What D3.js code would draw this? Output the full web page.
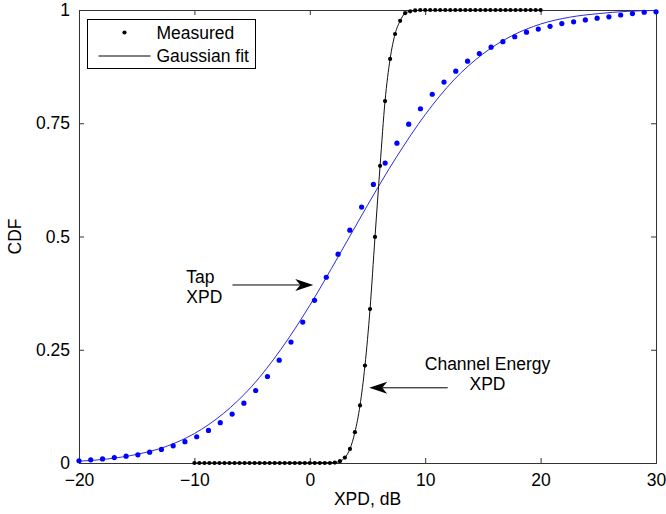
<!DOCTYPE html>
<html>
<head>
<meta charset="utf-8">
<script src="https://cdn.jsdelivr.net/npm/d3@7"></script>
<style>
  html, body { margin: 0; padding: 0; background: #fff; }
  #chart { width: 666px; height: 514px; }
  svg text { font-family: "Liberation Sans", Arial, sans-serif; font-size: 17.5px; fill: #000; }
  .axis path, .axis line { stroke: #333; }
</style>
</head>
<body>
<div id="chart"></div>
<script>
// Tap XPD, measured CDF points
var tapX = [-20.00, -18.98, -17.96, -16.94, -15.92, -14.90, -13.88, -12.86, -11.84, -10.82,
    -9.80, -8.78, -7.76, -6.73, -5.71, -4.69, -3.67, -2.65, -1.63, -0.61,
    0.41, 1.43, 2.45, 3.47, 4.49, 5.51, 6.53, 7.55, 8.57, 9.59,
    10.61, 11.63, 12.65, 13.67, 14.69, 15.71, 16.73, 17.76, 18.78, 19.80,
    20.82, 21.84, 22.86, 23.88, 24.90, 25.92, 26.94, 27.96, 28.98, 30.00];
var tapCdf = [0.005, 0.007, 0.009, 0.012, 0.015, 0.018, 0.024, 0.030, 0.038, 0.047,
    0.058, 0.072, 0.089, 0.108, 0.132, 0.160, 0.191, 0.227, 0.267, 0.311,
    0.359, 0.410, 0.461, 0.514, 0.565, 0.615, 0.662, 0.706, 0.748, 0.782,
    0.814, 0.841, 0.865, 0.887, 0.904, 0.918, 0.930, 0.941, 0.951, 0.958,
    0.964, 0.970, 0.974, 0.978, 0.982, 0.985, 0.989, 0.992, 0.995, 0.996];

// Tap XPD, Gaussian fit
var tapFitX = [-20, -17.5, -15, -12.5, -10, -7.5, -5, -2.5, 0, 2.5, 5, 7.5, 10, 12.5, 15, 17.5, 20, 22.5, 25, 27.5, 30];
var tapFitCdf = [0.004, 0.009, 0.019, 0.036, 0.065, 0.109, 0.170, 0.251, 0.348, 0.457, 0.569,
    0.675, 0.769, 0.846, 0.903, 0.943, 0.969, 0.984, 0.992, 0.997, 0.999];

// Channel energy XPD, measured CDF points
var energyX = [-10.00, -9.57, -9.13, -8.70, -8.26, -7.83, -7.39, -6.96, -6.52, -6.09,
    -5.65, -5.22, -4.78, -4.35, -3.91, -3.48, -3.04, -2.61, -2.17, -1.74,
    -1.30, -0.87, -0.43, 0.00, 0.43, 0.87, 1.30, 1.74, 2.17, 2.61,
    3.04, 3.48, 3.91, 4.35, 4.78, 5.22, 5.65, 6.09, 6.52, 6.96,
    7.39, 7.83, 8.26, 8.70, 9.13, 9.57, 10.00, 10.43, 10.87, 11.30,
    11.74, 12.17, 12.61, 13.04, 13.48, 13.91, 14.35, 14.78, 15.22, 15.65,
    16.09, 16.52, 16.96, 17.39, 17.83, 18.26, 18.70, 19.13, 19.57, 20.00];
var energyCdf = [0, 0, 0, 0, 0, 0, 0, 0, 0, 0,
    0, 0, 0, 0, 0, 0, 0, 0, 0, 0,
    0, 0, 0, 0, 0, 0, 0, 0, 0.001, 0.004,
    0.012, 0.031, 0.068, 0.127, 0.215, 0.340, 0.499, 0.656, 0.799, 0.892,
    0.947, 0.976, 0.993, 0.997, 0.999, 1, 1, 1, 1, 1,
    1, 1, 1, 1, 1, 1, 1, 1, 1, 1,
    1, 1, 1, 1, 1, 1, 1, 1, 1, 1];

// Channel energy XPD, Gaussian fit
var energyFitX = [-10, 2.17, 2.61, 3.04, 3.48, 3.91, 4.35, 4.78, 5.22, 5.65, 6.09, 6.52, 6.96, 7.39, 7.83, 8.26, 8.70, 9.13, 20];
var energyFitCdf = [0, 0.001, 0.004, 0.012, 0.031, 0.068, 0.127, 0.215, 0.340, 0.499, 0.656, 0.799, 0.892, 0.947, 0.976, 0.993, 0.997, 0.999, 1];

var xTicks = [-20, -10, 0, 10, 20, 30];
var yTicks = [0, 0.25, 0.5, 0.75, 1];
var yTickLabels = ["0", "0.25", "0.5", "0.75", "1"];

var margin = {top: 10, right: 10, bottom: 51, left: 79};
var width = 666 - margin.left - margin.right;
var height = 514 - margin.top - margin.bottom;

var svg = d3.select("#chart").append("svg")
    .attr("width", 666)
    .attr("height", 514);

var g = svg.append("g")
    .attr("transform", "translate(" + margin.left + "," + margin.top + ")");

var x = d3.scaleLinear().domain([-20, 30]).range([0, width]);
var y = d3.scaleLinear().domain([0, 1]).range([height, 0]);

var minus = function (d) { return d < 0 ? "\u2212" + Math.abs(d) : String(d); };

// box with inward ticks on all four sides
g.append("g").attr("class", "axis")
    .attr("transform", "translate(0," + height + ")")
    .call(d3.axisBottom(x).tickValues(xTicks).tickSize(-5).tickPadding(11).tickFormat(minus))
    .call(function (a) { a.selectAll("text").attr("font-size", null); });
g.append("g").attr("class", "axis")
    .call(d3.axisTop(x).tickValues(xTicks).tickSize(-5).tickFormat(""));
g.append("g").attr("class", "axis")
    .call(d3.axisLeft(y).tickValues(yTicks).tickSize(-5).tickPadding(9)
        .tickFormat(function (d, i) { return yTickLabels[i]; }));
g.append("g").attr("class", "axis")
    .attr("transform", "translate(" + width + ",0)")
    .call(d3.axisRight(y).tickValues(yTicks).tickSize(-5).tickFormat(""));
g.selectAll(".axis text").attr("font-size", null).attr("font-family", null);
g.selectAll(".axis").attr("font-size", null).attr("font-family", null);

// axis titles
g.append("text")
    .attr("x", width / 2)
    .attr("y", height + 42)
    .attr("text-anchor", "middle")
    .text("XPD, dB");
g.append("text")
    .attr("transform", "translate(" + (-58) + "," + (height / 2) + ") rotate(-90)")
    .attr("text-anchor", "middle")
    .text("CDF");

var line = d3.line()
    .x(function (d) { return x(d[0]); })
    .y(function (d) { return y(d[1]); })
    .curve(d3.curveMonotoneX);

// fits
g.append("path")
    .datum(d3.zip(tapFitX, tapFitCdf))
    .attr("fill", "none")
    .attr("stroke", "#2b2bd9")
    .attr("stroke-width", 1)
    .attr("d", line);
g.append("path")
    .datum(d3.zip(energyFitX, energyFitCdf))
    .attr("fill", "none")
    .attr("stroke", "#111")
    .attr("stroke-width", 1)
    .attr("d", line);

// measured points
g.append("g").selectAll("circle")
    .data(d3.zip(tapX, tapCdf))
    .enter().append("circle")
    .attr("cx", function (d) { return x(d[0]); })
    .attr("cy", function (d) { return y(d[1]); })
    .attr("r", 2.6)
    .attr("fill", "#0000ff");
g.append("g").selectAll("circle")
    .data(d3.zip(energyX, energyCdf))
    .enter().append("circle")
    .attr("cx", function (d) { return x(d[0]); })
    .attr("cy", function (d) { return y(d[1]); })
    .attr("r", 2.1)
    .attr("fill", "#000");

// annotations (data coordinates)
var arrows = [
    {from: [-6.7, 0.393], to: [0.3, 0.393]},
    {from: [11.95, 0.166], to: [5.15, 0.166]}
];
var labels = [
    {lines: ["Tap", "XPD"], at: [-10.7, 0.397], anchor: "start"},
    {lines: ["Channel Energy", "XPD"], at: [15.4, 0.206], anchor: "middle"}
];

arrows.forEach(function (a) {
    var x1 = x(a.from[0]), x2 = x(a.to[0]), yy = y(a.to[1]);
    var dir = x2 > x1 ? 1 : -1;
    g.append("line")
        .attr("x1", x1).attr("y1", yy)
        .attr("x2", x2 - dir * 10).attr("y2", yy)
        .attr("stroke", "#000").attr("stroke-width", 1);
    g.append("path")
        .attr("d", "M" + x2 + "," + yy +
            "L" + (x2 - dir * 18) + "," + (yy - 6) +
            "L" + (x2 - dir * 13) + "," + yy +
            "L" + (x2 - dir * 18) + "," + (yy + 6) + "Z")
        .attr("fill", "#000");
});

labels.forEach(function (l) {
    var t = g.append("text")
        .attr("x", x(l.at[0]))
        .attr("y", y(l.at[1]))
        .attr("text-anchor", l.anchor);
    l.lines.forEach(function (s, i) {
        t.append("tspan")
            .attr("x", x(l.at[0]))
            .attr("dy", i === 0 ? 0 : 20)
            .text(s);
    });
});

// legend
var legend = g.append("g").attr("transform", "translate(" + 8.5 + "," + 9.5 + ")");
legend.append("rect")
    .attr("width", 168).attr("height", 49)
    .attr("fill", "#fff").attr("stroke", "#000").attr("stroke-width", 1);
legend.append("circle")
    .attr("cx", 37).attr("cy", 13).attr("r", 2.1).attr("fill", "#000");
legend.append("text").attr("x", 69).attr("y", 30 - 10.5).text("Measured");
legend.append("line")
    .attr("x1", 11).attr("x2", 63).attr("y1", 36.5).attr("y2", 36.5)
    .attr("stroke", "#000");
legend.append("text").attr("x", 69).attr("y", 42.5).text("Gaussian fit");
</script>
</body>
</html>
